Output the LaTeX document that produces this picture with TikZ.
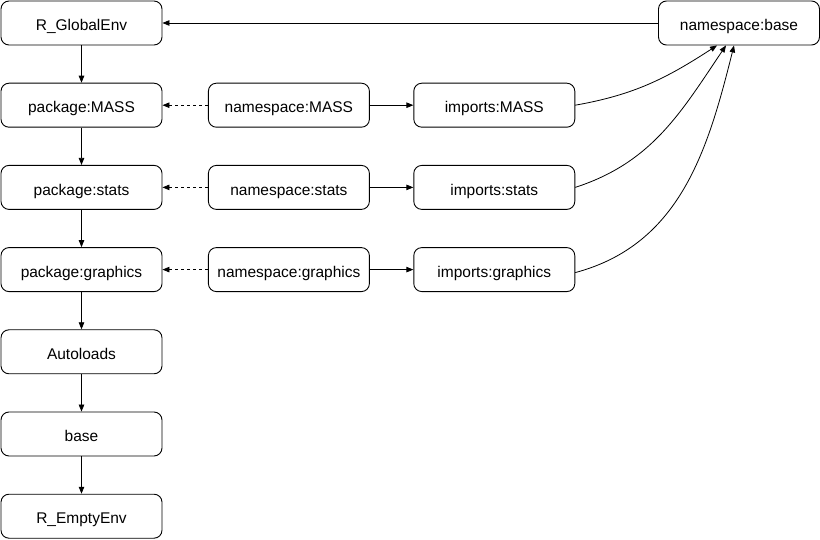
\documentclass[tikz,border=0pt]{standalone}
\usepackage{fontspec}
\setmainfont{Liberation Sans}
\usepackage{tikz}
\usetikzlibrary{positioning, arrows.meta}

\begin{document}
\begin{tikzpicture}[x=1pt, y=1pt,
  envbox/.style={draw, line width=0.9pt, rounded corners=8pt, minimum width=161pt,
    minimum height=44pt, inner sep=0pt, text height=16pt, text depth=0.5pt,
    font=\fontsize{15.5}{18}\selectfont},
  link/.style={line width=0.8pt, -{Triangle[length=7pt,width=5.5pt]}},
  node distance=37.3pt and 45.5pt]
\useasboundingbox (0,0) rectangle (820,539);

% search path: left column
\node[envbox] (global) at (81.5,516) {R\_GlobalEnv};
\node[envbox, below=of global] (pkgmass) {package:MASS};
\node[envbox, below=of pkgmass] (pkgstats) {package:stats};
\node[envbox, below=of pkgstats] (pkggraphics) {package:graphics};
\node[envbox, below=of pkggraphics] (autoloads) {Autoloads};
\node[envbox, below=of autoloads] (base) {base};
\node[envbox, below=of base] (empty) {R\_EmptyEnv};

% namespaces and imports
\node[envbox, right=of pkgmass] (nsmass) {namespace:MASS};
\node[envbox, right=43.5pt of nsmass] (impmass) {imports:MASS};
\node[envbox, right=of pkgstats] (nsstats) {namespace:stats};
\node[envbox, right=43.5pt of nsstats] (impstats) {imports:stats};
\node[envbox, right=of pkggraphics] (nsgraphics) {namespace:graphics};
\node[envbox, right=43.5pt of nsgraphics] (impgraphics) {imports:graphics};
\node[envbox] (nsbase) at (739,516) {namespace:base};

% parent links
\draw[link] (global) -- (pkgmass);
\draw[link] (pkgmass) -- (pkgstats);
\draw[link] (pkgstats) -- (pkggraphics);
\draw[link] (pkggraphics) -- (autoloads);
\draw[link] (autoloads) -- (base);
\draw[link] (base) -- (empty);
\draw[link] (nsbase) -- (global);

\draw[link, dashed, dash pattern=on 3pt off 3pt] (nsmass) -- (pkgmass);
\draw[link, dashed, dash pattern=on 3pt off 3pt] (nsstats) -- (pkgstats);
\draw[link, dashed, dash pattern=on 3pt off 3pt] (nsgraphics) -- (pkggraphics);
\draw[link] (nsmass) -- (impmass);
\draw[link] (nsstats) -- (impstats);
\draw[link] (nsgraphics) -- (impgraphics);

% imports -> namespace:base
\draw[link] (impmass.east) to[out=10, in=213] ([xshift=-22pt]nsbase.south);
\draw[link] (impstats.east) to[out=18, in=236] ([xshift=-13pt]nsbase.south);
\draw[link] ([yshift=-3pt]impgraphics.east) to[out=15, in=256] ([xshift=-5pt]nsbase.south);
\end{tikzpicture}
\end{document}
